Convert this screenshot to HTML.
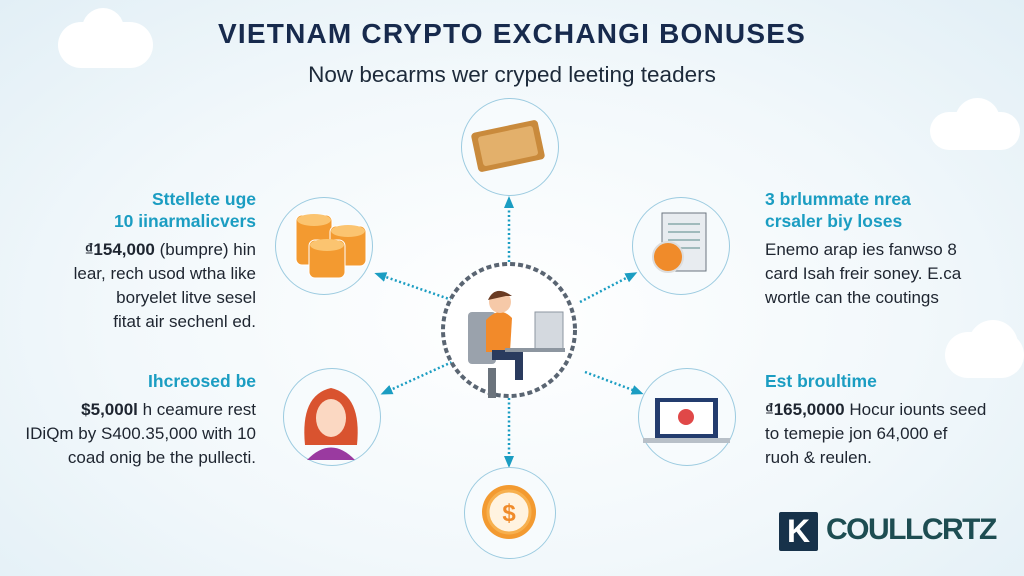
<!DOCTYPE html>
<html><head><meta charset="utf-8"><style>
body{margin:0;width:1024px;height:576px;overflow:hidden;font-family:"Liberation Sans",sans-serif;background:radial-gradient(ellipse at 50% 55%,#ffffff 0%,#f2f8fb 55%,#e2eff6 100%);position:relative}
.a{position:absolute}
.t{left:0;width:1024px;text-align:center}
h1{margin:0;font-size:28px;font-weight:bold;color:#172a4d;letter-spacing:1.2px}
.sub{font-size:22.5px;color:#1d2a3a}
.hd{color:#1b9dc2;font-weight:bold;font-size:17.5px;line-height:22px}
.bd{color:#1e2530;font-size:17px;line-height:24px}
.L{text-align:right}
.c{position:absolute;border-radius:50%;border:1.5px solid #9ccbe0;background:#f7fbfd}
.cloud{position:absolute;background:#fff;border-radius:30px}
</style></head><body>
<div class="cloud" style="left:58px;top:22px;width:95px;height:46px"></div>
<div class="cloud" style="left:82px;top:8px;width:42px;height:42px;border-radius:50%"></div>
<div class="cloud" style="left:930px;top:112px;width:90px;height:38px"></div>
<div class="cloud" style="left:955px;top:98px;width:45px;height:45px;border-radius:50%"></div>
<div class="cloud" style="left:945px;top:332px;width:79px;height:46px"></div>
<div class="cloud" style="left:968px;top:320px;width:50px;height:50px;border-radius:50%"></div>

<div class="a t" style="top:18px"><h1>VIETNAM CRYPTO EXCHANGI BONUSES</h1></div>
<div class="a t sub" style="top:62px">Now becarms wer cryped leeting teaders</div>

<svg class="a" style="left:0;top:0" width="1024" height="576">
<defs><marker id="m" markerUnits="userSpaceOnUse" markerWidth="12" markerHeight="12" refX="6" refY="6" orient="auto"><path d="M0,1L12,6L0,11z" fill="#1b9dc2"/></marker></defs>
<g stroke="#1b9dc2" stroke-width="2.5" stroke-dasharray="2 2.5" fill="none">
<line x1="509" y1="262" x2="509" y2="202" marker-end="url(#m)"/>
<line x1="509" y1="398" x2="509" y2="462" marker-end="url(#m)"/>
<line x1="452" y1="300" x2="380" y2="275" marker-end="url(#m)"/>
<line x1="452" y1="362" x2="386" y2="392" marker-end="url(#m)"/>
<line x1="580" y1="302" x2="632" y2="275" marker-end="url(#m)"/>
<line x1="585" y1="372" x2="638" y2="392" marker-end="url(#m)"/>
</g>
<circle cx="509" cy="330" r="66" fill="#fff" stroke="#5a6572" stroke-width="4" stroke-dasharray="5 3"/>
</svg>

<div class="c" style="left:461px;top:98px;width:96px;height:96px"></div>
<div class="c" style="left:275px;top:197px;width:96px;height:96px"></div>
<div class="c" style="left:283px;top:368px;width:96px;height:96px"></div>
<div class="c" style="left:632px;top:197px;width:96px;height:96px"></div>
<div class="c" style="left:638px;top:368px;width:96px;height:96px"></div>
<div class="c" style="left:464px;top:467px;width:90px;height:90px"></div>

<svg class="a" style="left:0;top:0" width="1024" height="576">
<rect x="474" y="126" width="68" height="40" rx="4" fill="#c98a3c" transform="rotate(-12 508 146)"/>
<rect x="480" y="131" width="56" height="30" rx="3" fill="#e3b06b" transform="rotate(-12 508 146)"/>
<g fill="#f39a30" stroke="#fff" stroke-width="1">
<rect x="296" y="215" width="36" height="50" rx="6"/><rect x="330" y="226" width="36" height="40" rx="6"/><rect x="309" y="240" width="36" height="38" rx="6"/>
</g>
<g fill="#fbc470"><ellipse cx="314" cy="220" rx="17" ry="6"/><ellipse cx="348" cy="231" rx="17" ry="6"/><ellipse cx="327" cy="245" rx="17" ry="6"/></g>
<path d="M305,445 Q300,395 331,388 Q362,395 357,445z" fill="#d9532f"/>
<ellipse cx="331" cy="418" rx="15" ry="19" fill="#fbd8c2"/>
<path d="M307,460 Q331,435 355,460z" fill="#9a3aa0"/>
<rect x="662" y="213" width="44" height="58" fill="#e8ecf0" stroke="#6b7580"/>
<g stroke="#8aa" stroke-width="1.5"><line x1="668" y1="224" x2="700" y2="224"/><line x1="668" y1="232" x2="700" y2="232"/><line x1="668" y1="240" x2="700" y2="240"/><line x1="668" y1="248" x2="700" y2="248"/></g>
<circle cx="668" cy="257" r="15" fill="#f08b2a" stroke="#ddd" stroke-width="2"/>
<rect x="655" y="398" width="63" height="40" fill="#233c6e"/><rect x="660" y="402" width="53" height="32" fill="#fff"/>
<circle cx="686" cy="417" r="8" fill="#e04848"/>
<rect x="643" y="438" width="87" height="5" fill="#b8c0c8"/>
<circle cx="509" cy="512" r="27" fill="#f39a30"/><circle cx="509" cy="512" r="21" fill="#fff3e0" stroke="#f7b04e" stroke-width="3"/>
<text x="509" y="521" font-family="Liberation Sans" font-size="24" font-weight="bold" fill="#f08b2a" text-anchor="middle">$</text>
<rect x="468" y="312" width="28" height="52" rx="4" fill="#9aa2ac"/>
<path d="M486,320 Q500,305 512,318 L510,352 L486,352z" fill="#f28a2a"/>
<circle cx="500" cy="302" r="11" fill="#f6c9a8"/><path d="M488,300 Q495,284 512,296 L506,296z" fill="#6a3b22"/>
<rect x="492" y="350" width="30" height="10" fill="#2a3b5e"/><rect x="515" y="350" width="8" height="30" fill="#2a3b5e"/>
<rect x="535" y="312" width="28" height="38" fill="#d4d9df" stroke="#8d96a0"/>
<rect x="505" y="348" width="60" height="4" fill="#8d96a0"/>
<rect x="488" y="368" width="8" height="30" fill="#6b737c"/>
</svg>

<div class="a L" style="right:768px;top:188px;width:250px"><div class="hd">Sttellete uge<br>10 iinarmalicvers</div></div>
<div class="a L bd" style="right:768px;top:238px;width:260px"><b>₫154,000</b> (bumpre) hin<br>lear, rech usod wtha like<br>boryelet litve sesel<br>fitat air sechenl ed.</div>
<div class="a L hd" style="right:768px;top:370px;width:250px">Ihcreosed be</div>
<div class="a L bd" style="right:768px;top:398px;width:290px"><b>$5,000l</b> h ceamure rest<br>IDiQm by S400.35,000 with 10<br>coad onig be the pullecti.</div>

<div class="a hd" style="left:765px;top:188px">3 brlummate nrea<br>crsaler biy loses</div>
<div class="a bd" style="left:765px;top:238px">Enemo arap ies fanwso 8<br>card Isah freir soney. E.ca<br>wortle can the coutings</div>
<div class="a hd" style="left:765px;top:370px">Est broultime</div>
<div class="a bd" style="left:765px;top:398px"><b>₫165,0000</b> Hocur iounts seed<br>to temepie jon 64,000 ef<br>ruoh &amp; reulen.</div>

<div class="a" style="left:779px;top:512px;width:39px;height:39px;background:#17324a;border-radius:2px;color:#fff;font-weight:bold;font-size:32px;line-height:39px;text-align:center">K</div>
<div class="a" style="left:826px;top:513px;font-size:30px;font-weight:bold;color:#1d4d52;letter-spacing:-1.5px">COULLCRTZ</div>
</body></html>
